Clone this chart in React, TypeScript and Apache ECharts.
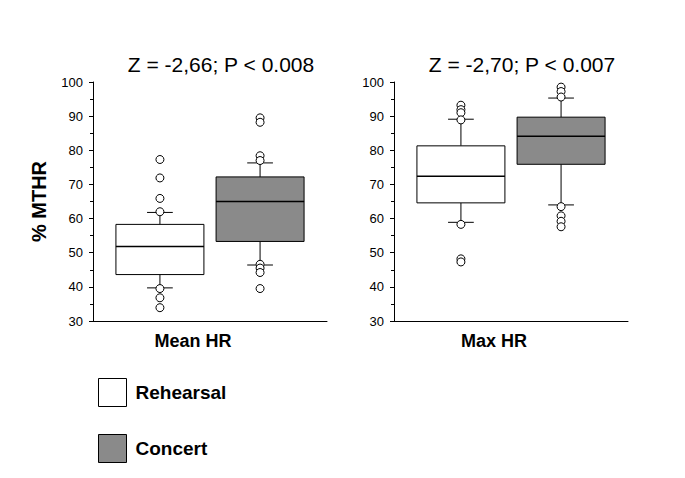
import React, { useEffect, useRef } from 'react';
import * as echarts from 'echarts';

const panels = ['Mean HR', 'Max HR'];
const titles = ['Z = -2,66; P < 0.008', 'Z = -2,70; P < 0.007'];
const groups = ['Rehearsal', 'Concert'];
const yLabel = '% MTHR';

// [lower whisker, Q1, median, Q3, upper whisker] per panel
const rehearsalBoxes = [
  [39.7, 43.6, 51.8, 58.3, 61.8],
  [58.9, 64.6, 72.4, 81.3, 89.1],
];
const concertBoxes = [
  [46.4, 53.3, 65.0, 72.2, 76.3],
  [64.0, 75.9, 84.1, 89.7, 95.3],
];
const rehearsalOutliers = [
  [77.3, 71.9, 65.9, 62.0, 39.5, 36.8, 33.9],
  [93.2, 91.9, 91.0, 88.9, 58.3, 48.2, 47.3],
];
const concertOutliers = [
  [89.5, 88.2, 78.4, 77.0, 46.6, 45.5, 44.2, 39.5],
  [98.5, 97.2, 95.6, 63.5, 60.8, 59.2, 57.6],
];

const FONT = '"Liberation Sans", Arial, sans-serif';
const CONCERT_FILL = '#8a8a8a';
const OFFSET = 0.214; // fraction of band
const BOX_W = 0.376;
const CAP_W = 0.11;

function boxRender(sign: number, fill: string) {
  return (params: any, api: any) => {
    const band = api.size([1, 0])[0];
    const cx = api.coord([api.value(0), 0])[0] + sign * OFFSET * band;
    const y = (v: number) => api.coord([0, v])[1];
    const lo = y(api.value(1));
    const q1 = y(api.value(2));
    const med = y(api.value(3));
    const q3 = y(api.value(4));
    const hi = y(api.value(5));
    const bw = BOX_W * band;
    const cw = CAP_W * band;
    const ls = { stroke: '#000', lineWidth: 1 };
    return {
      type: 'group',
      children: [
        { type: 'line', shape: { x1: cx, y1: q3, x2: cx, y2: hi }, style: ls },
        { type: 'line', shape: { x1: cx, y1: q1, x2: cx, y2: lo }, style: ls },
        { type: 'line', shape: { x1: cx - cw / 2, y1: hi, x2: cx + cw / 2, y2: hi }, style: ls },
        { type: 'line', shape: { x1: cx - cw / 2, y1: lo, x2: cx + cw / 2, y2: lo }, style: ls },
        { type: 'rect', shape: { x: cx - bw / 2, y: q3, width: bw, height: q1 - q3 }, style: { fill, stroke: '#000', lineWidth: 1 } },
        { type: 'line', shape: { x1: cx - bw / 2, y1: med, x2: cx + bw / 2, y2: med }, style: { stroke: '#000', lineWidth: 1.5 } },
      ],
    };
  };
}

function outlierRender(sign: number) {
  return (params: any, api: any) => {
    const band = api.size([1, 0])[0];
    const p = api.coord([api.value(0), api.value(1)]);
    return {
      type: 'circle',
      shape: { cx: p[0] + sign * OFFSET * band, cy: p[1], r: 4 },
      style: { fill: '#fff', stroke: '#000', lineWidth: 1 },
    };
  };
}

export default function App() {
  const ref = useRef<HTMLDivElement>(null);
  useEffect(() => {
    if (!ref.current) return;
    const chart = echarts.init(ref.current, null, { renderer: 'svg' });
    const grids = [
      { left: 93, top: 82, width: 234, height: 239 },
      { left: 394, top: 82, width: 234, height: 239 },
    ];
    const centers = [216, 517];
    const series: any[] = [];
    panels.forEach((p, i) => {
      series.push({
        type: 'custom', name: groups[0], xAxisIndex: i, yAxisIndex: i,
        itemStyle: { color: '#fff', borderColor: '#000' },
        renderItem: boxRender(-1, '#fff'),
        encode: { x: 0, y: [1, 2, 3, 4, 5] },
        data: [[0, ...rehearsalBoxes[i]]],
      });
      series.push({
        type: 'custom', name: groups[1], xAxisIndex: i, yAxisIndex: i,
        itemStyle: { color: CONCERT_FILL, borderColor: '#000' },
        renderItem: boxRender(1, CONCERT_FILL),
        encode: { x: 0, y: [1, 2, 3, 4, 5] },
        data: [[0, ...concertBoxes[i]]],
      });
      series.push({
        type: 'custom', name: groups[0] + ' outliers', xAxisIndex: i, yAxisIndex: i,
        renderItem: outlierRender(-1),
        encode: { x: 0, y: 1 },
        data: rehearsalOutliers[i].map((v) => [0, v]),
      });
      series.push({
        type: 'custom', name: groups[1] + ' outliers', xAxisIndex: i, yAxisIndex: i,
        renderItem: outlierRender(1),
        encode: { x: 0, y: 1 },
        data: concertOutliers[i].map((v) => [0, v]),
      });
    });
    chart.setOption({
      animation: false,
      backgroundColor: '#fff',
      textStyle: { fontFamily: FONT, color: '#000' },
      title: titles.map((t, i) => ({
        text: t,
        left: centers[i],
        top: 49,
        textAlign: 'center',
        textStyle: { fontFamily: FONT, fontSize: 21, fontWeight: 'normal', color: '#000' },
      })),
      legend: {
        orient: 'vertical',
        left: 98,
        top: 378,
        padding: 0,
        itemWidth: 28,
        itemHeight: 28,
        itemGap: 27,
        selectedMode: false,
        data: [
          { name: groups[0], icon: 'rect', itemStyle: { color: '#fff', borderColor: '#000', borderWidth: 1 } },
          { name: groups[1], icon: 'rect', itemStyle: { color: CONCERT_FILL, borderColor: '#000', borderWidth: 1 } },
        ],
        textStyle: { fontFamily: FONT, fontSize: 19, fontWeight: 'bold', color: '#000', padding: [0, 0, 0, 4] },
      },
      grid: grids,
      xAxis: panels.map((p, i) => ({
        type: 'category',
        gridIndex: i,
        data: [p],
        axisLine: { lineStyle: { color: '#000', width: 1 } },
        axisTick: { alignWithLabel: true, length: 4, lineStyle: { color: '#000' } },
        axisLabel: {
          fontFamily: FONT, fontSize: 18, fontWeight: 'bold', color: '#000', margin: 11,
          padding: [0, 34, 0, 0],
        },
        splitLine: { show: false },
      })),
      yAxis: panels.map((p, i) => ({
        type: 'value',
        gridIndex: i,
        min: 30,
        max: 100,
        interval: 10,
        name: i === 0 ? yLabel : '',
        nameLocation: 'middle',
        nameGap: 44,
        nameTextStyle: { fontFamily: FONT, fontSize: 20, fontWeight: 'bold', color: '#000' },
        axisLine: { show: true, lineStyle: { color: '#000', width: 1 } },
        axisTick: { show: true, length: 4, lineStyle: { color: '#000' } },
        minorTick: { show: true, splitNumber: 2, length: 3, lineStyle: { color: '#000' } },
        axisLabel: { fontFamily: FONT, fontSize: 13, color: '#000', margin: 10 },
        splitLine: { show: false },
      })),
      series,
    });
    return () => chart.dispose();
  }, []);
  return (
    <div
      ref={ref}
      style={{ position: 'absolute', left: 0, top: 0, width: 685, height: 478, background: '#fff' }}
    />
  );
}
